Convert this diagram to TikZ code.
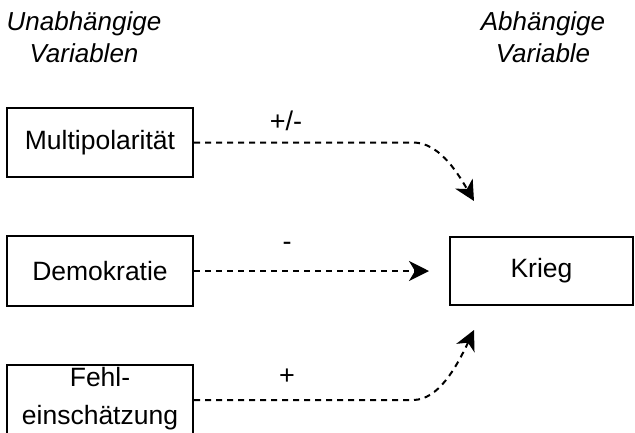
\documentclass[tikz,border=0pt]{standalone}
\usepackage{fontspec}
\setmainfont{Liberation Sans}
\usetikzlibrary{arrows.meta}
\begin{document}
\begin{tikzpicture}[x=1pt,y=-1pt,
  box/.style={draw,line width=2pt,rectangle,inner sep=0pt,align=center,
    font=\fontsize{26.5}{38}\selectfont},
  head/.style={align=center,font=\fontsize{26}{32}\selectfont\itshape},
  lbl/.style={font=\fontsize{27}{32}\selectfont},
  link/.style={line width=2pt,dash pattern=on 6pt off 5pt,
    -{Stealth[length=20pt,width=20pt,inset=6pt]}}]
\useasboundingbox (0,0) rectangle (635,432);
\node[head] (hu) at (84,37) {Unabhängige\\Variablen};
\node[head] (ha) at (543,37) {Abhängige\\Variable};
\node[box,minimum width=186pt,minimum height=69pt] (mp) at (100,142.5) {Multipolarität};
\node[box,minimum width=186pt,minimum height=70pt] (dem) at (100,271) {Demokratie};
\node[box,minimum width=186pt,minimum height=70pt] (feh) at (100,400) {Fehl-\\einschätzung\rule[-9pt]{0pt}{9pt}};
\node[box,minimum width=183pt,minimum height=68pt] (kr) at (541.5,271) {Krieg};
\coordinate (t1) at (474,201);
\coordinate (t2) at (429,271);
\coordinate (t3) at (474,330);
\draw[link] (mp.east) -- (413,142.5) .. controls (438,142.5) and (456,170) .. (t1);
\draw[link] (dem.east) -- (t2);
\draw[link] (feh.east) -- (413,400) .. controls (438,400) and (456,368) .. (t3);
\node[lbl] (l1) at (286,121) {+/-};
\node[lbl] (l2) at (287,246) {-};
\node[lbl] (l3) at (287,377) {+};
\end{tikzpicture}
\end{document}
